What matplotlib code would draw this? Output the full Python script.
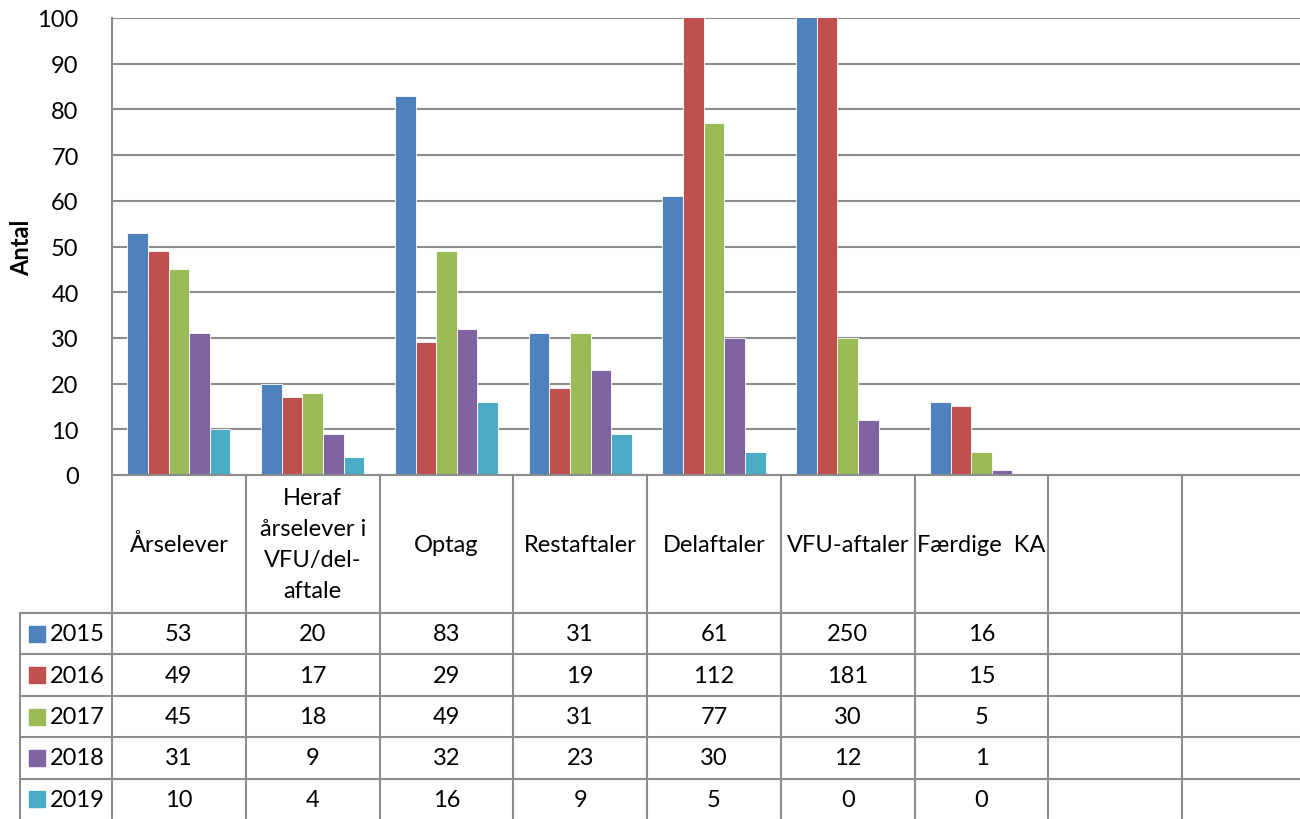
import matplotlib.pyplot as plt
import numpy as np

plt.rcParams['font.family'] = ['Lato', 'DejaVu Sans']
plt.rcParams['font.size'] = 17

# data
categories = ['Årselever', 'Heraf\nårselever i\nVFU/del-\naftale', 'Optag', 'Restaftaler',
              'Delaftaler', 'VFU-aftaler', 'Færdige  KA', '', '']
years = ['2015', '2016', '2017', '2018', '2019']
v2015 = [53, 20, 83, 31, 61, 250, 16]
v2016 = [49, 17, 29, 19, 112, 181, 15]
v2017 = [45, 18, 49, 31, 77, 30, 5]
v2018 = [31, 9, 32, 23, 30, 12, 1]
v2019 = [10, 4, 16, 9, 5, 0, 0]
series = [v2015, v2016, v2017, v2018, v2019]
colors = ['#4F81BD', '#C0504D', '#9BBB59', '#8064A2', '#4BACC6']
yticks = list(range(0, 101, 10))

W, H = 1300, 820
fig = plt.figure(figsize=(W / 100, H / 100), dpi=100)

# plot area in pixels
left, right, top, bottom = 112, 1316, 19, 476
ax = fig.add_axes([left / W, 1 - bottom / H, (right - left) / W, (bottom - top) / H])
ncat = len(categories)
ax.set_xlim(0, ncat)
ax.set_ylim(0, 100)

bw = 0.154
x = np.arange(len(v2015)) + 0.5
for i, (vals, c) in enumerate(zip(series, colors)):
    ax.bar(x + (i - 2) * bw, vals, bw, color=c, edgecolor='white', linewidth=0.6, zorder=3)

ax.set_yticks(yticks)
ax.tick_params(axis='y', length=0, pad=24, labelsize=17)
ax.set_xticks([])
ax.grid(axis='y', color='#8c8c8c', linewidth=1.5, zorder=0)
for s in ['top', 'right', 'bottom']:
    ax.spines[s].set_visible(False)
ax.spines['left'].set_color('#8c8c8c')
ax.spines['left'].set_linewidth(1.5)
ax.set_ylabel('Antal', fontweight='bold', fontsize=17)
ax.yaxis.set_label_coords((33 - left) / (right - left), 0.5)

# data table below
tleft, tbottom = 20, 821
tx = fig.add_axes([tleft / W, 1 - tbottom / H, (right - tleft) / W, (tbottom - bottom) / H])
legw = (left - tleft) / ((right - left) / ncat)
tx.set_xlim(-legw, ncat)
tx.set_ylim(tbottom - bottom, 0)
tx.axis('off')
lc = '#8c8c8c'
head = 138
rowh = (tbottom - bottom - head) / len(years)

# vertical lines
for k in range(ncat + 1):
    tx.plot([k, k], [0, tbottom - bottom], color=lc, lw=1.5, clip_on=False)
tx.plot([-legw, -legw], [head, tbottom - bottom], color=lc, lw=1.5, clip_on=False)
# horizontal lines
tx.plot([0, ncat], [0, 0], color=lc, lw=1.5, clip_on=False)
for r in range(len(years) + 1):
    yy = head + r * rowh
    tx.plot([-legw, ncat], [yy, yy], color=lc, lw=1.5, clip_on=False)

for k, cat in enumerate(categories):
    tx.text(k + 0.5, head / 2, cat, ha='center', va='center', fontsize=17, linespacing=1.6)

for r, (yr, vals, c) in enumerate(zip(years, series, colors)):
    yc = head + (r + 0.5) * rowh
    tx.scatter([-legw + 0.13], [yc], marker='s', s=130, color=c, clip_on=False)
    tx.text(-legw + 0.22, yc, yr, ha='left', va='center', fontsize=17)
    for k, v in enumerate(vals):
        tx.text(k + 0.5, yc, str(v), ha='center', va='center', fontsize=17)

fig.savefig('out.png', dpi=100, facecolor='white')
